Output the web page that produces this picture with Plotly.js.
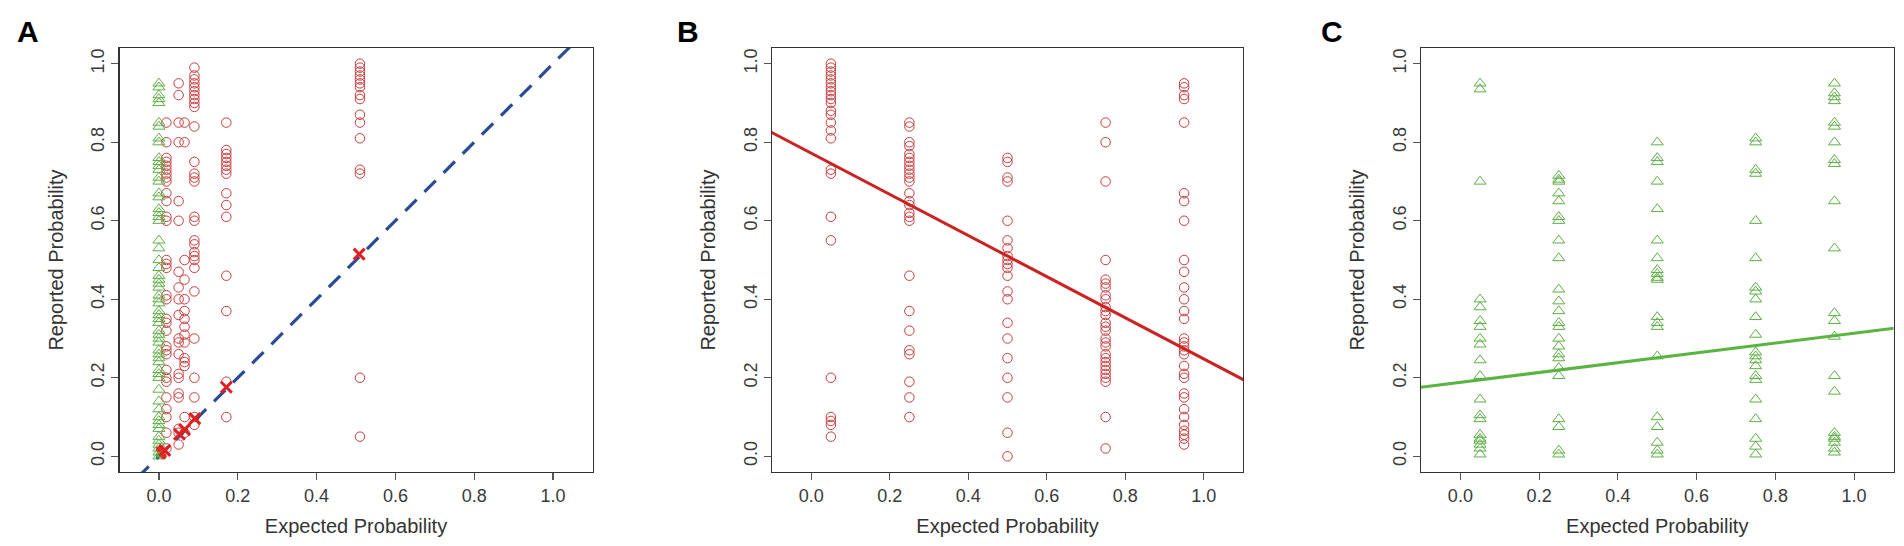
<!DOCTYPE html>
<html>
<head>
<meta charset="utf-8">
<script src="https://cdn.plot.ly/plotly-3.0.1.min.js"></script>
<style>html,body{margin:0;padding:0;background:#fff;}#chart{width:1904px;height:546px;}</style>
</head>
<body>
<div id="chart"></div>
<script>
// ---------- Panel A data ----------
const aGreenX = 0.0;
const aGreenY = [0.95,0.94,0.92,0.91,0.90,0.85,0.84,0.81,0.80,0.76,0.75,0.74,0.73,0.71,0.70,0.67,0.66,0.63,0.62,0.61,0.60,0.55,0.53,0.50,0.48,0.46,0.45,0.44,0.43,0.41,0.40,0.39,0.37,0.36,0.35,0.34,0.32,0.31,0.30,0.29,0.27,0.26,0.25,0.24,0.22,0.21,0.20,0.17,0.14,0.12,0.10,0.09,0.08,0.07,0.05,0.04,0.03,0.02,0.01,0.00];
const aRedColumnsX = [0.019, 0.05, 0.065, 0.09, 0.171, 0.51];
const aRed019 = [0.85,0.80,0.76,0.75,0.74,0.73,0.72,0.71,0.70,0.67,0.65,0.61,0.60,0.50,0.49,0.48,0.41,0.40,0.35,0.34,0.32,0.28,0.27,0.26,0.22,0.20,0.19,0.15,0.12,0.10,0.06,0.02];
const aRed050 = [0.95,0.92,0.85,0.80,0.65,0.60,0.47,0.43,0.40,0.36,0.30,0.29,0.26,0.21,0.20,0.16,0.15,0.07,0.06,0.03];
const aRed065 = [0.85,0.80,0.50,0.45,0.40,0.37,0.35,0.33,0.31,0.29,0.25,0.24,0.23,0.10,0.06];
const aRed090 = [0.99,0.97,0.96,0.95,0.94,0.93,0.92,0.91,0.90,0.89,0.84,0.75,0.72,0.71,0.70,0.61,0.60,0.55,0.54,0.52,0.51,0.50,0.48,0.42,0.30,0.20,0.15,0.10,0.08];
const aRed171 = [0.85,0.78,0.77,0.76,0.75,0.74,0.73,0.72,0.67,0.64,0.61,0.46,0.37,0.19,0.10];
const aRed510 = [1.00,0.99,0.98,0.97,0.96,0.95,0.94,0.92,0.91,0.87,0.85,0.81,0.73,0.72,0.20,0.05];
const aCrossX = [0.015, 0.052, 0.065, 0.091, 0.171, 0.508];
const aCrossY = [0.015, 0.056, 0.068, 0.096, 0.176, 0.515];
const aRedDotX = [0.0, 0.012];
const aRedDotY = [0.018, 0.0];
const aGreenDotX = [0.0];
const aGreenDotY = [0.003];
const aLine = {intercept: 0.0, slope: 1.0};

// ---------- Panel B data ----------
const bColumnsX = [0.05, 0.25, 0.5, 0.75, 0.95];
const b005 = [1.00,0.99,0.98,0.97,0.96,0.95,0.94,0.93,0.92,0.91,0.90,0.88,0.87,0.85,0.83,0.81,0.73,0.72,0.61,0.55,0.20,0.10,0.09,0.08,0.05];
const b025 = [0.85,0.84,0.80,0.79,0.77,0.76,0.75,0.74,0.73,0.72,0.71,0.70,0.67,0.65,0.64,0.62,0.61,0.60,0.46,0.37,0.32,0.27,0.26,0.19,0.15,0.10];
const b050 = [0.76,0.75,0.71,0.70,0.60,0.55,0.53,0.51,0.50,0.49,0.48,0.46,0.42,0.40,0.34,0.30,0.25,0.20,0.15,0.06,0.00];
const b075 = [0.85,0.80,0.70,0.50,0.45,0.44,0.43,0.41,0.40,0.38,0.37,0.36,0.34,0.33,0.32,0.30,0.29,0.28,0.26,0.25,0.24,0.23,0.22,0.21,0.20,0.19,0.10,0.02];
const b095 = [0.95,0.94,0.92,0.91,0.85,0.67,0.65,0.60,0.50,0.47,0.43,0.40,0.37,0.35,0.30,0.29,0.28,0.27,0.26,0.23,0.21,0.20,0.16,0.15,0.12,0.10,0.08,0.065,0.055,0.045,0.03];
const bLine = {intercept: 0.772, slope: -0.524};

// ---------- Panel C data ----------
const cColumnsX = [0.05, 0.25, 0.5, 0.75, 0.95];
const c005 = [0.95,0.935,0.70,0.40,0.38,0.345,0.33,0.30,0.285,0.245,0.205,0.145,0.105,0.095,0.055,0.045,0.04,0.03,0.02,0.005];
const c025 = [0.715,0.705,0.70,0.67,0.65,0.61,0.60,0.55,0.505,0.425,0.395,0.37,0.34,0.33,0.30,0.28,0.26,0.25,0.225,0.205,0.095,0.075,0.015,0.005];
const c050 = [0.80,0.76,0.75,0.70,0.63,0.55,0.505,0.475,0.465,0.455,0.45,0.355,0.34,0.33,0.255,0.10,0.075,0.035,0.015,0.005];
const c075 = [0.81,0.80,0.73,0.72,0.60,0.505,0.43,0.42,0.40,0.355,0.31,0.265,0.255,0.245,0.23,0.205,0.195,0.145,0.095,0.045,0.025,0.005];
const c095 = [0.95,0.925,0.915,0.905,0.85,0.84,0.80,0.755,0.745,0.65,0.53,0.365,0.345,0.305,0.205,0.165,0.06,0.05,0.045,0.035,0.02,0.01];
const cLine = {intercept: 0.1885, slope: 0.125};

// ---------- tick labels / titles ----------
const tickValues = [0, 0.2, 0.4, 0.6, 0.8, 1.0];
const tickLabels = ['0.0', '0.2', '0.4', '0.6', '0.8', '1.0'];
const xTitle = 'Expected Probability';
const yTitle = 'Reported Probability';
const panelLabels = ['A', 'B', 'C'];

// ---------- helpers ----------
const XR = [-0.1, 1.1];
const YR = [-0.04, 1.04];
function flatten(colsX, colsY) {
  const x = [], y = [];
  colsY.forEach((ys, i) => ys.forEach(v => { x.push(colsX[i]); y.push(v); }));
  return {x, y};
}
function lineXY(fit) {
  const xs = [XR[0] - 0.1, XR[1] + 0.1];
  return {x: xs, y: xs.map(v => fit.intercept + fit.slope * v)};
}

const RED = '#c93c3c';
const GREEN = '#5cb044';
const FONT = 'Liberation Sans, Arial, Helvetica, sans-serif';

const aRed = flatten(aRedColumnsX, [aRed019, aRed050, aRed065, aRed090, aRed171, aRed510]);
const bPts = flatten(bColumnsX, [b005, b025, b050, b075, b095]);
const cPts = flatten(cColumnsX, [c005, c025, c050, c075, c095]);
const aL = lineXY(aLine), bL = lineXY(bLine), cL = lineXY(cLine);

const circleMarker = {symbol: 'circle-open', size: 9.5, color: RED, line: {color: RED, width: 1}};
const triMarker = {symbol: 'triangle-up-open', size: 10.5, color: GREEN, line: {color: GREEN, width: 1}};

const traces = [
  // Panel A
  {x: aRed.x, y: aRed.y, xaxis: 'x', yaxis: 'y', type: 'scatter', mode: 'markers', marker: circleMarker, hoverinfo: 'skip'},
  {x: aGreenY.map(() => aGreenX), y: aGreenY, xaxis: 'x', yaxis: 'y', type: 'scatter', mode: 'markers', marker: triMarker, hoverinfo: 'skip'},
  {x: aL.x, y: aL.y, xaxis: 'x', yaxis: 'y', type: 'scatter', mode: 'lines', line: {color: '#2b4c94', width: 3.2, dash: '16px,11px'}, hoverinfo: 'skip'},
  {x: aRedDotX, y: aRedDotY, xaxis: 'x', yaxis: 'y', type: 'scatter', mode: 'markers', marker: {symbol: 'circle', size: 6, color: '#e02a2a'}, hoverinfo: 'skip'},
  {x: aGreenDotX, y: aGreenDotY, xaxis: 'x', yaxis: 'y', type: 'scatter', mode: 'markers', marker: {symbol: 'circle', size: 6, color: '#4caf3a'}, hoverinfo: 'skip'},
  {x: aCrossX, y: aCrossY, xaxis: 'x', yaxis: 'y', type: 'scatter', mode: 'markers', marker: {symbol: 'x-thin-open', size: 11, color: '#e02020', line: {color: '#e02020', width: 3}}, hoverinfo: 'skip'},
  // Panel B
  {x: bPts.x, y: bPts.y, xaxis: 'x2', yaxis: 'y2', type: 'scatter', mode: 'markers', marker: circleMarker, hoverinfo: 'skip'},
  {x: bL.x, y: bL.y, xaxis: 'x2', yaxis: 'y2', type: 'scatter', mode: 'lines', line: {color: '#cc2222', width: 3}, hoverinfo: 'skip'},
  // Panel C
  {x: cPts.x, y: cPts.y, xaxis: 'x3', yaxis: 'y3', type: 'scatter', mode: 'markers', marker: triMarker, hoverinfo: 'skip'},
  {x: cL.x, y: cL.y, xaxis: 'x3', yaxis: 'y3', type: 'scatter', mode: 'lines', line: {color: '#5ab540', width: 3}, hoverinfo: 'skip'}
];

const W = 1904, H = 546;
const xDomains = [[119.5 / W, 592.5 / W], [772 / W, 1243 / W], [1421 / W, 1893.5 / W]];
const yDomain = [(H - 472) / H, (H - 48) / H];

function xAxis(i) {
  return {
    domain: xDomains[i], range: XR, anchor: i === 0 ? 'y' : 'y' + (i + 1),
    tickmode: 'array', tickvals: tickValues, ticktext: tickLabels,
    ticks: 'outside', ticklen: 7, tickwidth: 1.2, tickcolor: '#555',
    showline: true, mirror: true, linecolor: '#333', linewidth: 1.3,
    showgrid: false, zeroline: false, automargin: false,
    tickfont: {family: FONT, size: 18, color: '#3a3a3a'},
    title: {text: xTitle, font: {family: FONT, size: 20, color: '#333'}, standoff: 14}
  };
}
function yAxis(i) {
  return {
    domain: yDomain, range: YR, anchor: i === 0 ? 'x' : 'x' + (i + 1),
    tickmode: 'array', tickvals: tickValues, ticktext: tickLabels, tickangle: -90,
    ticks: 'outside', ticklen: 7, tickwidth: 1.2, tickcolor: '#555',
    showline: true, mirror: true, linecolor: '#333', linewidth: 1.3,
    showgrid: false, zeroline: false, automargin: false,
    tickfont: {family: FONT, size: 18, color: '#3a3a3a'},
    title: {text: yTitle, font: {family: FONT, size: 20, color: '#333'}, standoff: 19}
  };
}

const letterX = [15, 675, 1319];
const layout = {
  width: W, height: H,
  margin: {l: 0, r: 0, t: 0, b: 0},
  paper_bgcolor: '#ffffff', plot_bgcolor: '#ffffff',
  showlegend: false,
  font: {family: FONT},
  xaxis: xAxis(0), yaxis: yAxis(0),
  xaxis2: xAxis(1), yaxis2: yAxis(1),
  xaxis3: xAxis(2), yaxis3: yAxis(2),
  annotations: panelLabels.map((t, i) => ({
    text: '<b>' + t + '</b>', xref: 'paper', yref: 'paper',
    x: letterX[i] / W, y: (H - 31) / H, xanchor: 'left', yanchor: 'middle',
    showarrow: false, font: {family: FONT, size: 30, color: '#000'}
  }))
};

Plotly.newPlot('chart', traces, layout, {displayModeBar: false, staticPlot: true});
</script>
</body>
</html>
